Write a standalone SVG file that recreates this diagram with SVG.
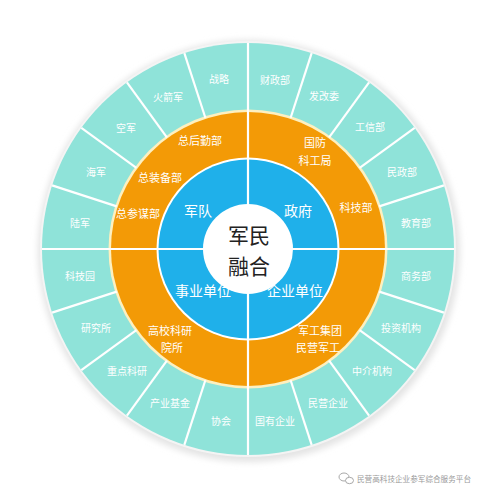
<svg xmlns="http://www.w3.org/2000/svg" width="487" height="500" viewBox="0 0 487 500">
<defs>
<filter id="halo" x="-20%" y="-20%" width="140%" height="140%"><feGaussianBlur stdDeviation="3"/></filter>
<style>
text{font-family:"Noto Sans CJK SC","Noto Sans",sans-serif;text-anchor:middle;dominant-baseline:central}
.t{font-size:10px;fill:#ffffff}
.o{font-size:11px;fill:#ffffff}
.b{font-size:14px;fill:#ffffff}
.c{font-size:21px;fill:#222222}
.div{stroke:#ffffff;stroke-width:2.2;fill:none}
.wm{font-size:8px;fill:#9a9a9a}
</style>
</defs>
<rect width="487" height="500" fill="#ffffff"/>
<circle cx="249" cy="251" r="211" fill="#e4e4e4" filter="url(#halo)"/>
<circle cx="248" cy="249" r="208" fill="#f4f4f4"/>
<g id="rings">
<circle cx="248" cy="249" r="206" fill="#8fe3d9"/>
<circle cx="248" cy="249" r="139.5" fill="#fdf0c0"/>
<circle cx="248" cy="249" r="137" fill="#f39a06"/>
<circle cx="248" cy="249" r="91.5" fill="#ffffff"/>
<circle cx="248" cy="249" r="89.5" fill="#1fb0ea"/>
</g>
<g id="connectors" class="div">
<line x1="248" y1="43" x2="248" y2="455"/>
<line x1="42" y1="249" x2="454" y2="249"/>
<line x1="290.64" y1="117.75" x2="311.66" y2="53.08"/>
<line x1="329.11" y1="137.36" x2="369.08" y2="82.34"/>
<line x1="359.64" y1="167.89" x2="414.66" y2="127.92"/>
<line x1="379.25" y1="206.36" x2="443.92" y2="185.34"/>
<line x1="379.25" y1="291.64" x2="443.92" y2="312.66"/>
<line x1="359.64" y1="330.11" x2="414.66" y2="370.08"/>
<line x1="329.11" y1="360.64" x2="369.08" y2="415.66"/>
<line x1="290.64" y1="380.25" x2="311.66" y2="444.92"/>
<line x1="205.36" y1="380.25" x2="184.34" y2="444.92"/>
<line x1="166.89" y1="360.64" x2="126.92" y2="415.66"/>
<line x1="136.36" y1="330.11" x2="81.34" y2="370.08"/>
<line x1="116.75" y1="291.64" x2="52.08" y2="312.66"/>
<line x1="116.75" y1="206.36" x2="52.08" y2="185.34"/>
<line x1="136.36" y1="167.89" x2="81.34" y2="127.92"/>
<line x1="166.89" y1="137.36" x2="126.92" y2="82.34"/>
<line x1="205.36" y1="117.75" x2="184.34" y2="53.08"/>
</g>
<g id="center">
<circle cx="248" cy="249" r="45" fill="#ffffff"/>
<text class="c" x="249" y="234">军民</text>
<text class="c" x="249" y="265">融合</text>
</g>
<g id="n-jundui"><text class="b" x="198" y="210">军队</text></g>
<g id="n-zhengfu"><text class="b" x="298" y="210">政府</text></g>
<g id="n-shiye"><text class="b" x="203" y="290">事业单位</text></g>
<g id="n-qiye"><text class="b" x="295" y="290">企业单位</text></g>
<g id="o-zonghouqin"><text class="o" x="200" y="140">总后勤部</text></g>
<g id="o-zongzhuangbei"><text class="o" x="160" y="177">总装备部</text></g>
<g id="o-zongcanmou"><text class="o" x="138" y="213">总参谋部</text></g>
<g id="o-guofang"><text class="o" x="315" y="142">国防</text><text class="o" x="315" y="160">科工局</text></g>
<g id="o-kejibu"><text class="o" x="356" y="207">科技部</text></g>
<g id="o-gaoxiao"><text class="o" x="170" y="330">高校科研</text><text class="o" x="172" y="347">院所</text></g>
<g id="o-jungong"><text class="o" x="320" y="330">军工集团</text><text class="o" x="318" y="347">民营军工</text></g>
<g id="t1"><text class="t" x="275" y="79">财政部</text></g>
<g id="t2"><text class="t" x="324" y="95">发改委</text></g>
<g id="t3"><text class="t" x="370" y="126">工信部</text></g>
<g id="t4"><text class="t" x="402" y="171">民政部</text></g>
<g id="t5"><text class="t" x="416" y="222">教育部</text></g>
<g id="t6"><text class="t" x="416" y="275">商务部</text></g>
<g id="t7"><text class="t" x="401" y="327">投资机构</text></g>
<g id="t8"><text class="t" x="372" y="370">中介机构</text></g>
<g id="t9"><text class="t" x="328" y="402">民营企业</text></g>
<g id="t10"><text class="t" x="275" y="420">国有企业</text></g>
<g id="t11"><text class="t" x="221" y="420">协会</text></g>
<g id="t12"><text class="t" x="170" y="402">产业基金</text></g>
<g id="t13"><text class="t" x="127" y="370">重点科研</text></g>
<g id="t14"><text class="t" x="96" y="327">研究所</text></g>
<g id="t15"><text class="t" x="80" y="275">科技园</text></g>
<g id="t16"><text class="t" x="80" y="222">陆军</text></g>
<g id="t17"><text class="t" x="96" y="171">海军</text></g>
<g id="t18"><text class="t" x="126" y="127">空军</text></g>
<g id="t19"><text class="t" x="168" y="96">火箭军</text></g>
<g id="t20"><text class="t" x="219" y="78">战略</text></g>
<g id="watermark">
<ellipse cx="344" cy="477" rx="5" ry="4" fill="none" stroke="#a8a8a8" stroke-width="1"/>
<ellipse cx="349.5" cy="480.5" rx="4" ry="3.2" fill="#ffffff" stroke="#a8a8a8" stroke-width="1"/>
<text class="wm" x="414" y="478" textLength="114" lengthAdjust="spacingAndGlyphs">民营高科技企业参军综合服务平台</text>
</g>
</svg>
